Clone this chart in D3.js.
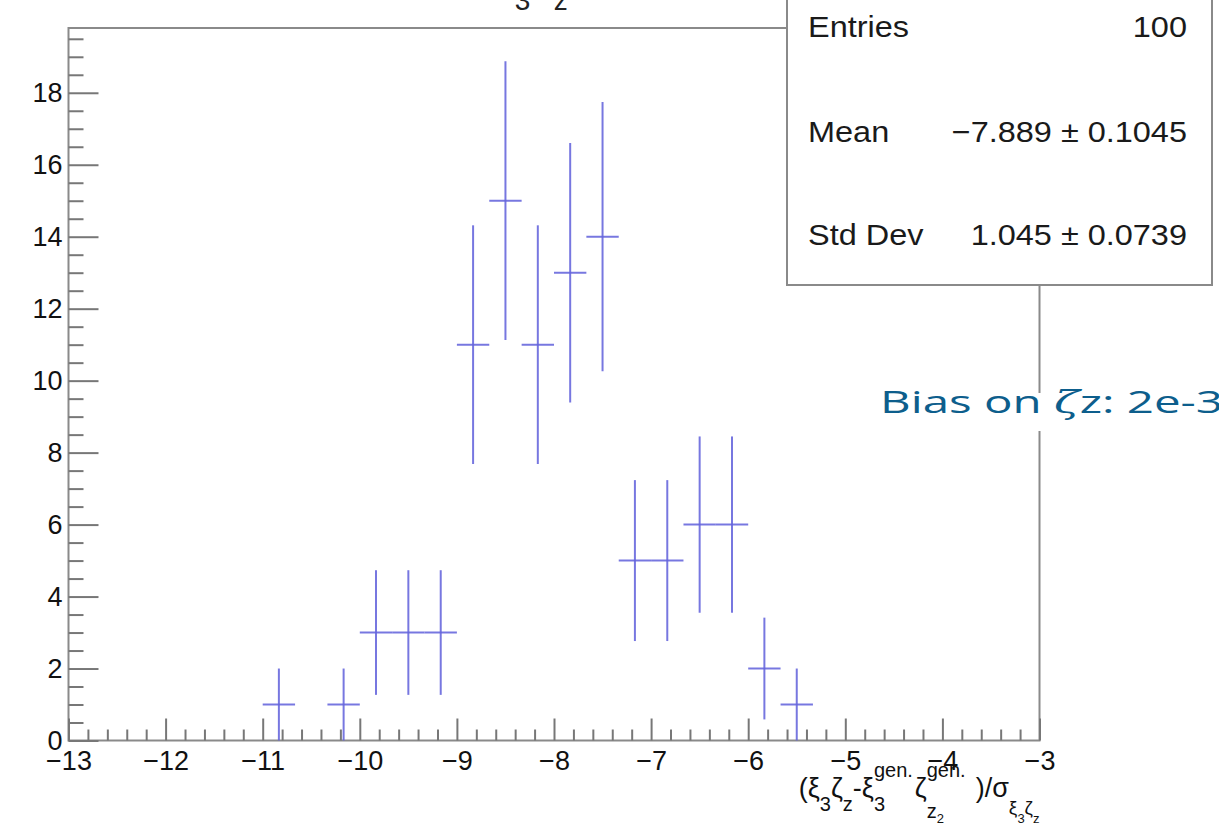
<!DOCTYPE html>
<html><head><meta charset="utf-8">
<script src="https://cdn.jsdelivr.net/npm/d3@7"></script>
<style>html,body{margin:0;padding:0;background:#fff;overflow:hidden}svg{display:block}</style>
</head><body>
<svg id="c" width="1219" height="828"></svg>
<script>
// ---- data ----
const xMin = -13, xMax = -3, nBins = 30;
const counts = [0,0,0,0,0,0,1,0,1,3,3,3,11,15,11,13,14,5,5,6,6,2,1,0,0,0,0,0,0,0];
const xTicks = [-13,-12,-11,-10,-9,-8,-7,-6,-5,-4,-3];
const yTicks = [0,2,4,6,8,10,12,14,16,18];
const yMax = 19.8;
const statsLabels = ["Entries","Mean","Std Dev"];
const statsValues = ["100","\u22127.889 \u00b1 0.1045","1.045 \u00b1 0.0739"];
const noteText = ["Bias on ", "\u03b6", "z: 2e-3"];

// ---- layout ----
const svg = d3.select("#c");
const L = 68.5, R = 1039.5, T = 28, B = 740.5;
const x = d3.scaleLinear().domain([xMin, xMax]).range([L, R]);
const y = d3.scaleLinear().domain([0, yMax]).range([B, T]);
const FONT = "'Liberation Sans', Arial, Helvetica, sans-serif";
const gray = "#8a8a8a";
const binW = (xMax - xMin) / nBins;

// run of text pieces; stack: same x as previous piece; follow: right after previous piece
function layout(textEl, pieces, startX) {
  let cx = startX, lastStart = startX, lastEnd = startX;
  pieces.forEach(p => {
    const ts = textEl.append("tspan").text(p.t).attr("font-size", p.size).attr("y", p.base);
    let sx = p.stack ? lastStart : (p.follow ? lastEnd : cx + (p.gap || 0));
    ts.attr("x", sx);
    const w = ts.node().getComputedTextLength();
    lastStart = sx; lastEnd = sx + w;
    cx = Math.max(cx, sx + w);
  });
  return cx;
}

// title (mostly cut off above the top)
const title = svg.append("text").attr("font-family", FONT).attr("fill", "#222");
layout(title, [
  {t: "\u03be", size: 44, base: -14},
  {t: "3", size: 28, base: 10},
  {t: "\u03b6", size: 44, base: -14, gap: 4},
  {t: "z", size: 28, base: 10}
], 495);

// frame
svg.append("rect").attr("x", L).attr("y", T).attr("width", R - L).attr("height", B - T)
  .attr("fill", "none").attr("stroke", gray).attr("stroke-width", 2);

// x axis major / minor
const xAxis = d3.axisBottom(x).tickValues(xTicks).tickSizeInner(-22).tickSizeOuter(0).tickPadding(10)
  .tickFormat(d3.format("d"));
const gx = svg.append("g").attr("transform", `translate(0,${B})`).call(xAxis);
const xMinor = d3.range(0, 51).map(i => xMin + i * 0.2).filter(v => Math.abs(v - Math.round(v)) > 1e-6);
const gxm = svg.append("g").attr("transform", `translate(0,${B})`)
  .call(d3.axisBottom(x).tickValues(xMinor).tickSizeInner(-11).tickSizeOuter(0).tickFormat(""));
// y axis major / minor
const yAxis = d3.axisLeft(y).tickValues(yTicks).tickSizeInner(-30).tickSizeOuter(0).tickPadding(6);
const gy = svg.append("g").attr("transform", `translate(${L},0)`).call(yAxis);
const yMinor = d3.range(0, 40).map(i => i * 0.5).filter(v => v % 2 !== 0 && v <= yMax);
const gym = svg.append("g").attr("transform", `translate(${L},0)`)
  .call(d3.axisLeft(y).tickValues(yMinor).tickSizeInner(-15).tickSizeOuter(0).tickFormat(""));
[gx, gxm, gy, gym].forEach(g => {
  g.select(".domain").remove();
  g.selectAll("line").attr("stroke", "#777").attr("stroke-width", 2);
  g.selectAll("text").attr("font-family", FONT).attr("font-size", 27).attr("fill", "#111");
});

// histogram error bars
const bins = counts.map((c, i) => ({lo: xMin + i * binW, hi: xMin + (i + 1) * binW, c: c, e: Math.sqrt(c)}))
  .filter(d => d.c > 0);
const hg = svg.append("g").attr("stroke", "#6464dc").attr("stroke-width", 2).attr("stroke-opacity", 0.88);
hg.selectAll("line.h").data(bins).join("line").attr("class", "h")
  .attr("x1", d => x(d.lo)).attr("x2", d => x(d.hi)).attr("y1", d => y(d.c)).attr("y2", d => y(d.c));
hg.selectAll("line.v").data(bins).join("line").attr("class", "v")
  .attr("x1", d => x((d.lo + d.hi) / 2)).attr("x2", d => x((d.lo + d.hi) / 2))
  .attr("y1", d => y(Math.max(0, d.c - d.e))).attr("y2", d => y(d.c + d.e));

// x axis title
const xt = svg.append("text").attr("font-family", FONT).attr("fill", "#111");
const bm = 797, sub = 811, sup = 777;
const pieces = [
  {t: "(\u03be", size: 27, base: bm},
  {t: "3", size: 20, base: sub},
  {t: "\u03b6", size: 27, base: bm},
  {t: "z", size: 20, base: sub},
  {t: "-\u03be", size: 27, base: bm},
  {t: "gen.", size: 20, base: sup},
  {t: "3", size: 20, base: sub, stack: true},
  {t: "\u03b6", size: 27, base: bm, gap: 2},
  {t: "gen.", size: 20, base: sup},
  {t: "z", size: 20, base: 818, stack: true},
  {t: "2", size: 13, base: 823, follow: true},
  {t: ")/\u03c3", size: 27, base: bm, gap: 10},
  {t: "\u03be", size: 19, base: 814},
  {t: "3", size: 13, base: 823},
  {t: "\u03b6", size: 19, base: 814},
  {t: "z", size: 13, base: 823}
];
const endX = layout(xt, pieces, 0);
const shift = R - endX;
xt.selectAll("tspan").each(function() {
  const s = d3.select(this); s.attr("x", +s.attr("x") + shift);
});

// stats box
svg.append("rect").attr("x", 787).attr("y", -10).attr("width", 425).attr("height", 295)
  .attr("fill", "#fff").attr("stroke", gray).attr("stroke-width", 2);
const sg = svg.append("g").attr("font-family", FONT).attr("font-size", 29).attr("fill", "#1a1a1a");
const rowBase = [37, 142, 245];
statsLabels.forEach((s, i) => {
  sg.append("text").attr("x", 808).attr("y", rowBase[i]).text(s)
    .attr("transform", `translate(808,0) scale(1.12,1) translate(-808,0)`);
  sg.append("text").attr("x", 1187).attr("y", rowBase[i]).attr("text-anchor", "end").text(statsValues[i])
    .attr("transform", `translate(1187,0) scale(1.12,1) translate(-1187,0)`);
});

// overlaid note
svg.append("rect").attr("x", 872).attr("y", 393).attr("width", 347).attr("height", 38).attr("fill", "#fff");
const nt = svg.append("text").attr("x", 880).attr("y", 413).attr("font-family", "'Open Sans', 'Noto Sans', sans-serif")
  .attr("font-size", 31).attr("fill", "#0d5e8c")
  .attr("textLength", 343).attr("lengthAdjust", "spacingAndGlyphs");
nt.append("tspan").text(noteText[0]);
nt.append("tspan").text(noteText[1]).attr("font-family", "'DejaVu Serif', serif").attr("font-style", "italic");
nt.append("tspan").text(noteText[2]);
</script>
</body></html>
